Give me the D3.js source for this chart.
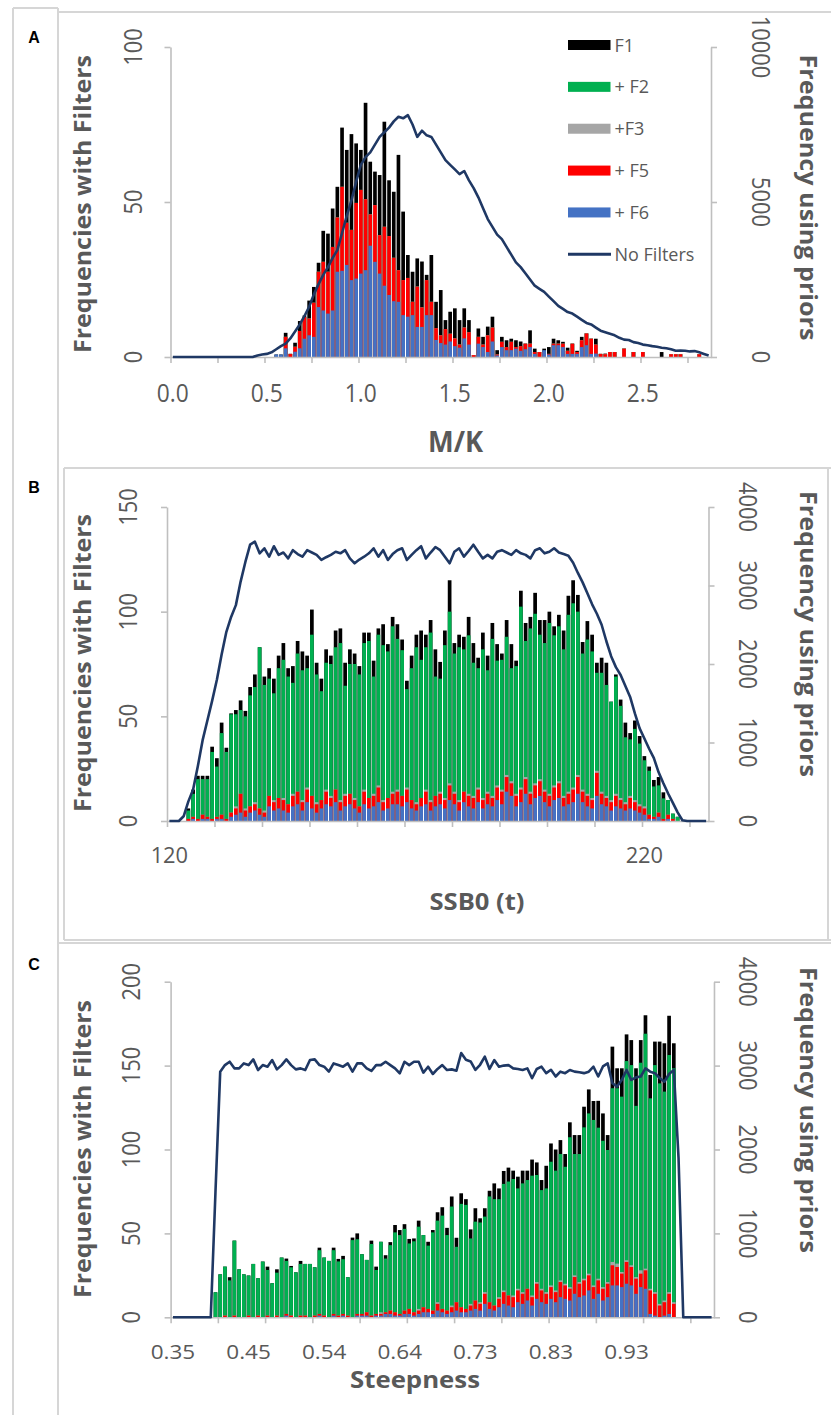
<!DOCTYPE html>
<html><head><meta charset="utf-8">
<script src="https://cdn.jsdelivr.net/npm/d3@7"></script>
<style>body{margin:0;background:#fff}svg{display:block}</style>
</head><body>
<svg id="chart" width="831" height="1415"></svg>
<script>
// ---------------- DATA ----------------
// Panel A : M/K, bins of 0.025 from 0.0 (115 bins); bars start at bin 22
const A_binStart = 0, A_binWidth = 0.025, A_nBins = 115, A_barStart = 22;
const A_xTickLabels = ["0.0","0.5","1.0","1.5","2.0","2.5"];
const A_xLabelBins = [0,20,40,60,80,100];
const A_leftTicks = [0,50,100];
const A_rightTicks = [0,5000,10000];
const A_f1 = [0.8,0.8,7.8,1,4.6,11.6,13.4,18.2,22.6,30.4,
  40.7,39.8,47.9,54.9,74,66.8,71.9,68.9,66.8,82,
  63,59.8,58.7,75.9,57,53.3,65.2,46.9,32.9,27.5,
  31.8,30.8,26.5,32.9,17.8,21.6,11.9,14.6,15.7,11.9,
  15.7,11.9,0.6,9.2,6.5,9.8,13,2.2,6.5,5.4,
  5.9,5.4,5,4.3,8.6,2.7,1.6,2.7,3.2,5.9,
  5.4,4.9,3,4.3,2,6.5,7.6,5.9,5.9,1,
  1.1,1.6,1.6,0,2.7,0,1.6,0,1.6,0,
  0,0,1.6,0,0.9,0.9,0.9,0,0,0,
  0.9,0,0];
const A_f5 = [0,0,6.5,1,3.3,8.4,12.9,12.4,17.5,27.5,
  30.7,27.5,35.5,45,54.9,43.3,41,49.7,53.9,50.9,
  46,49,39.3,42,39,32,28,24.8,25.5,17.8,
  22.7,16,24.8,17.8,9.3,7,9,7.5,6,4,
  9.5,8,0.6,6.5,4,7,9.5,0.8,4.9,3.2,
  4.9,3.2,3.5,4.3,4.3,1.6,1.6,1.6,1,4.3,
  4.3,4.3,2,4.3,1.6,5.4,7.6,5.9,4,1,
  0.9,1.6,1.6,0,2.7,0,1.6,0,1.6,0,
  0,0,0,0,0.9,0.9,0.9,0,0,0,
  0.9,0,0];
// in panel A no green / grey increment is visible: +F2 and +F3 tops equal the +F5 tops
const A_f2 = A_f5.slice();
const A_f3 = A_f5.slice();
const A_f6 = [0.8,0.8,2.8,0,1.7,2.8,5.9,7,6.5,16.1,
  15,14,15,27.5,27.8,29.7,24.8,25.3,26.9,28,
  35.9,30.7,26.9,23,20,18,17.8,13.5,13,13.5,
  9.7,9.7,13.5,13.5,5.5,4.5,4,5,3.5,3,
  6,4,0,4.3,3.2,1.6,5,0.5,3.2,2.2,
  2.2,2.7,2,2.5,3.2,1,0,2.2,0.8,3.8,
  3.8,3.2,1,1,1,3.2,3.8,1,1.1,0,
  0,0,0,0,0,0,0,0,0,0,
  0,0,0,0,0,0,0,0,0,0,
  0,0,0];
const A_noFilters = [0,0,0,0,0,0,0,0,0,0,
  0,0,0,0,0,0,0,0,50,80,
  100,150,250,350,430,600,820,1050,1320,1620,
  2020,2350,2650,2900,3200,3450,4000,4550,5050,5650,
  6200,6450,6600,6850,7100,7250,7400,7600,7750,7700,
  7800,7500,7100,7300,7150,7100,6850,6600,6350,6200,
  6050,5900,6000,5700,5450,5150,4800,4450,4200,3950,
  3800,3550,3300,3050,2900,2700,2500,2300,2200,2100,
  1950,1800,1650,1550,1450,1400,1300,1200,1100,1050,
  950,850,800,750,700,620,560,550,480,450,
  400,380,350,330,300,280,250,200,210,200,
  180,190,150,100,50];

// Panel B : SSB0 (t), bins of 1 t from 120 (114 bins); bars start at bin 4
const B_binStart = 120, B_binWidth = 1, B_nBins = 114, B_barStart = 4;
const B_xTickLabels = ["120","220"];
const B_xLabelBins = [0,100];
const B_leftTicks = [0,50,100,150];
const B_rightTicks = [0,1000,2000,3000,4000];
const B_f1 = [6,15,21.6,21.6,21.6,35.5,30,47,35,51.4,
  53,57.6,52.6,64,70,83,69,73,68,79,
  85,73,74,86,81,79,101,75.6,68,82,
  79,91,92,75.6,82,80,74,90,90,76.6,
  92,94,84.5,97.5,94,86.7,67,79,89,91,
  89,96,82,76,91,115,85,89,88,97.5,
  85,78,90,79,94.6,84.5,80,96,84.5,76.6,
  110,94.6,97.5,109,96,96,100,93,98.5,91,
  107.6,115,108,85.5,95.5,89,75.6,78,75.6,57,
  70,58,47,42,48,40.6,31,26,19.6,21,
  13.7,10,3.5,2];
const B_f2 = [5,13,20,20,20,33,26,42,33,51,
  51,53,50,60,64,83,65,68,61,73,
  77,69,66,80,72,73,89,70,62,75.6,
  75,83,85,64.6,75,75,70,85,86,69,
  89,84,81,93,87,81.6,63,73,83,77,
  83,90,69,68,84,100,80,83,82,88.7,
  75.6,73,82,72,87,76.6,77,88,73,74,
  102.4,86,92,99,89,85,94.6,88.7,93,82,
  98.5,104,100,80,86.7,81,70.8,70.8,65,57,
  69,55,40,39,44,37,29,24,16.5,17,
  10.8,10,3.5,2];
const B_f3 = [1,2,1,3,2,1,2,3,1,4,
  7,13,6,7,9,6,5,12,10,11,
  11,8,13,14,10,16,12,9,10,15,
  12,15,10,13,13,11,7,15,11,13,
  17,10,11,14,15,12,16,10,9,11,
  15,10,12,14,11,18,14,10,14,13,
  12,16,11,14,12,17,15,22,19,13,
  16,21,14,18,20,15,13,17,19,12,
  14,16,22,15,13,11,24,14,12,10,
  13,11,9,12,10,8,7,3,2,4,
  1,3,1,0];
const B_f5 = [1,2,1,3,2,1,2,3,1,4,
  6,13,5,7,8,6,4,12,9,11,
  10,8,12,14,9,15,12,8,10,14,
  11,15,9,12,13,10,7,14,11,12,
  16,9,11,13,14,12,15,10,8,11,
  14,9,12,13,10,17,13,9,14,12,
  11,15,10,13,11,16,14,21,18,12,
  15,20,13,17,19,14,12,16,18,11,
  13,15,21,14,12,10,23,13,11,9,
  12,10,8,11,9,7,6,3,2,4,
  1,3,1,0];
const B_f6 = [0,1,0,1,1,0,1,1,0,2,
  3,4,2,4,5,3,2,7,5,6,
  5,4,7,8,5,9,6,4,6,8,
  7,9,5,7,8,6,4,8,6,7,
  9,5,6,8,8,7,9,6,5,7,
  8,5,7,8,6,10,8,5,9,7,
  6,9,6,8,7,10,8,14,12,7,
  9,13,8,11,12,9,7,10,11,7,
  8,9,13,9,7,6,12,8,7,5,
  7,6,5,6,5,4,3,1,1,2,
  0,1,0,0];
const B_noFilters = [0,0,0,60,250,400,700,1030,1280,1530,
  1800,2120,2410,2600,2750,3050,3300,3520,3558,3410,
  3474,3367,3500,3390,3420,3345,3450,3400,3367,3450,
  3420,3390,3325,3360,3390,3430,3410,3450,3345,3283,
  3330,3367,3410,3474,3367,3450,3325,3400,3450,3474,
  3325,3390,3450,3500,3345,3420,3490,3450,3367,3283,
  3430,3474,3367,3440,3520,3430,3345,3390,3345,3430,
  3450,3420,3390,3450,3410,3390,3345,3450,3474,3410,
  3430,3474,3420,3400,3380,3290,3160,3040,2900,2760,
  2640,2500,2290,2100,1960,1860,1720,1580,1370,1180,
  1050,920,800,620,480,350,230,110,10,0,
  0,0,0,0];

// Panel C : Steepness, bins of 0.006 from 0.35 (115 bins); bars start at bin 9
const C_binStart = 0.35, C_binWidth = 0.006, C_nBins = 115, C_barStart = 9;
const C_xTickLabels = ["0.35","0.45","0.54","0.64","0.73","0.83","0.93"];
const C_xLabelBins = [0,16,32,48,64,80,96];
const C_leftTicks = [0,50,100,150,200];
const C_rightTicks = [0,1000,2000,3000,4000];
const C_f1 = [14.9,25.6,30.2,23.9,45.7,28.6,25.6,24.9,31.8,23.3,
  33.2,30.2,20.3,28.6,35.6,35,30.6,26.8,33.6,31.8,
  31.8,29.8,41.5,35.6,33.6,41.5,34.8,36.6,23.9,47.5,
  50,37.6,34.2,45.7,30.2,45,37,44.8,55,52,
  55.5,46.7,47,57.6,49,45,52,62.6,65.6,53.3,
  72,47.4,73.9,70.4,52.4,65,59,65,75.4,79.8,
  76.8,87.2,89.2,87.4,83.8,87.4,87.4,94,92.3,81.8,
  90.3,103.6,100,105.6,97.3,116.2,108.6,108.6,125.5,135.8,
  128.9,129,121.5,108.6,161.3,148.4,148.4,168.6,165.2,148.4,
  165.2,180,144.4,164.3,164.3,163.3,179.7,163.3];
const C_f2 = [14.9,25.6,30.2,22,45.7,28.6,25.6,24.9,31.8,23.3,
  33.2,28.2,20.3,26.6,35.6,33.6,29.8,26.8,31.8,31.8,
  31.8,29.8,40,35.6,33.6,40,33.3,34.6,23.9,46,
  46.5,37.6,34.2,43.7,28.2,45,35,43,50.6,49,
  52.7,44,45.3,54,49,42.7,50.6,57.6,60.6,49,
  66,42,67.6,67,47,57,56.5,60,72,70.4,
  70.4,79.5,80.9,82.4,76.8,79.8,81.8,84.4,84.8,75.8,
  76.8,92.7,87.4,97.3,89.7,107.3,97.3,97.3,113.2,121.5,
  117.6,113,105.2,99.7,136.5,136.5,131.5,152.7,150.3,126,
  151.7,169,130.5,150.3,139.4,134.5,156.3,148.4];
const C_f3 = [0,0,1,0,1,0,0,1,0,1,
  0,1,0,1,0,2,1,0,1,1,
  0,1,2,1,0,2,1,2,1,0,
  2,2,3,1,2,3,3,4,3,2,
  4,5,3,5,6,5,4,9,5,4,
  7,9,6,5,8,10,9,15,9,7,
  12,16,13,13,17,15,17,13,21,17,
  15,19,16,22,20,18,25,21,23,26,
  19,23,18,21,33,32,27,34,31,24,
  28,29,17,15,8,10,15,9];
const C_f5 = [0,0,1,0,1,0,0,1,0,1,
  0,1,0,1,0,2,1,0,1,1,
  0,1,2,1,0,2,1,2,1,0,
  2,2,3,1,2,2,3,4,3,2,
  4,5,3,4,6,5,4,8,5,4,
  6,9,6,5,7,10,8,14,9,7,
  11,15,13,12,16,14,17,12,20,16,
  14,18,15,21,19,17,24,20,22,25,
  18,22,17,20,31,30,26,33,30,23,
  26,28,16,14,7,9,14,8];
const C_f6 = [0,0,0,0,0,0,0,0,0,0,
  0,0,0,0,0,1,0,0,0,0,
  0,0,1,0,0,1,0,1,0,0,
  1,1,1,0,1,1,2,2,1,1,
  2,2,1,2,3,3,2,4,3,2,
  3,4,3,3,4,5,4,8,5,4,
  6,8,7,6,9,8,10,7,11,9,
  8,11,9,12,11,10,14,12,13,16,
  11,14,10,12,19,19,18,20,19,14,
  18,17,2,1,0,1,2,0];
const C_noFilters = [0,0,0,0,0,0,0,0,0,1500,
  2928,3006,3046,2967,2967,3026,3006,3074,2947,3006,
  2987,3066,2955,3006,3074,3006,2955,2967,2947,3066,
  3074,3006,2987,2928,3026,3006,2987,3026,2928,3026,
  3026,2967,2936,3006,3006,3046,3006,2967,2908,3046,
  3006,3046,3046,2916,2987,2900,2960,3006,2947,2955,
  2940,3150,3070,3050,2948,3010,3106,2960,3066,2987,
  3000,3006,2967,2960,2948,2967,2849,2960,2987,2910,
  2950,2870,2928,2910,2948,2928,2920,2910,2928,2987,
  2870,2990,3027,2789,2750,2830,2948,2830,2860,2870,
  2968,2928,2910,2852,2808,2900,2948,1900,0,0,
  0,0,0,0,0];

const legendLabels = ["F1","+ F2","+F3","+ F5","+ F6","No Filters"];
const leftTitle = "Frequencies with Filters";
const rightTitle = "Frequency using priors";

// ---------------- DRAWING ----------------
const COL = {f1:"#000000", f2:"#00b050", f3:"#a6a6a6", f5:"#ff0000", f6:"#4472c4", line:"#1f3864"};
const TXT = "#595959", AXC = "#bfbfbf", FRAME = "#d6d6d6";
const FONT = "'Open Sans', 'Noto Sans', sans-serif";

const svg = d3.select("#chart");
svg.append("rect").attr("width",831).attr("height",1415).attr("fill","#fff");

// frames
const frames = [
  [13,8,13,1415],[58,8,58,1415],[13,8,58,8],
  [58,12,831,12],
  [64,468,831,468],[64,468,64,940],[64,940,831,940],[828,468,828,940],
  [58,943,831,943]
];
svg.append("g").selectAll("line").data(frames).join("line")
  .attr("x1",d=>d[0]).attr("y1",d=>d[1]).attr("x2",d=>d[2]).attr("y2",d=>d[3])
  .attr("stroke",FRAME).attr("stroke-width",2);

function tw(s){ let w=0; for(const ch of s) w += (ch==='.') ? 7 : 12.5; return w; }

function drawPanel(p){
  const g = svg.append("g");
  const xEnd = p.x0 + p.n*p.pitch;
  const pad = 0.22;
  const x = d3.scaleBand().domain(d3.range(p.n)).range([p.x0, xEnd]).paddingInner(pad).paddingOuter(pad/2);
  const xl = d3.scaleLinear().domain([0,p.n]).range([p.x0, xEnd]);
  const yL = d3.scaleLinear().domain([0,p.leftMax]).range([p.yB, p.yT]);
  const yR = d3.scaleLinear().domain([0,p.rightMax]).range([p.yB, p.yT]);

  // overlapping filter bars (F1 largest at back)
  [["f1",p.f1],["f2",p.f2],["f3",p.f3],["f5",p.f5],["f6",p.f6]].forEach(([key,arr])=>{
    g.append("g").selectAll("rect")
      .data(arr.map((v,i)=>({k:i+p.barStart, v})).filter(d=>d.v>0))
      .join("rect")
      .attr("x", d=>x(d.k)).attr("width", x.bandwidth())
      .attr("y", d=>yL(d.v)).attr("height", d=>yL(0)-yL(d.v))
      .attr("fill", COL[key]);
  });

  // axes (lines + tick marks)
  const styleAxis = sel => {
    sel.select(".domain").attr("stroke",AXC).attr("stroke-width",1.6);
    sel.selectAll(".tick line").attr("stroke",AXC).attr("stroke-width",1.6);
    sel.selectAll(".tick text").remove();
  };
  const axL = g.append("g").attr("transform",`translate(${p.x0},0)`)
    .call(d3.axisLeft(yL).tickValues(p.leftTicks).tickSize(6).tickSizeOuter(0));
  styleAxis(axL);
  const axR = g.append("g").attr("transform",`translate(${xEnd},0)`)
    .call(d3.axisRight(yR).tickValues(p.rightTicks).tickSize(6).tickSizeOuter(0));
  styleAxis(axR);
  const axB = g.append("g").attr("transform",`translate(0,${p.yB})`)
    .call(d3.axisBottom(xl).tickValues(d3.range(0,p.n,10)).tickSize(6).tickSizeOuter(0));
  styleAxis(axB);

  // rotated y tick labels
  g.append("g").selectAll("text").data(p.leftTicks).join("text")
    .attr("transform", d=>`translate(${p.x0-p.offL},${yL(d)}) rotate(-90)`)
    .attr("text-anchor","middle").attr("fill",TXT)
    .attr("font-family",FONT).attr("font-size",25)
    .attr("textLength",d=>tw(String(d))).attr("lengthAdjust","spacingAndGlyphs")
    .text(d=>String(d));
  g.append("g").selectAll("text").data(p.rightTicks).join("text")
    .attr("transform", d=>`translate(${xEnd+p.offR},${yR(d)}) rotate(90)`)
    .attr("text-anchor","middle").attr("fill",TXT)
    .attr("font-family",FONT).attr("font-size",25)
    .attr("textLength",d=>tw(String(d))).attr("lengthAdjust","spacingAndGlyphs")
    .text(d=>String(d));

  // x tick labels at category centres
  g.append("g").selectAll("text").data(p.labelBins).join("text")
    .attr("x", d=>x(d)+x.bandwidth()/2).attr("y", p.xLblBase)
    .attr("text-anchor","middle")
    .attr("fill",TXT).attr("font-family",FONT).attr("font-size",p.xLblSize)
    .attr("textLength",(d,i)=>tw(p.xLabels[i])).attr("lengthAdjust","spacingAndGlyphs")
    .text((d,i)=>p.xLabels[i]);

  // No-filter line (right axis)
  const line = d3.line().x((v,i)=>x(i)+x.bandwidth()/2).y(v=>yR(v));
  g.append("path").datum(p.line).attr("d",line)
    .attr("fill","none").attr("stroke",COL.line).attr("stroke-width",2.6)
    .attr("stroke-linejoin","round");

  // titles
  g.append("text").attr("transform",`translate(${p.tLx},${p.tLy}) rotate(-90)`)
    .attr("text-anchor","middle").attr("font-family",FONT).attr("font-weight",700)
    .attr("font-size",23).attr("fill",TXT)
    .attr("textLength",298).attr("lengthAdjust","spacingAndGlyphs").text(leftTitle);
  g.append("text").attr("transform",`translate(${p.tRx},${p.tRy}) rotate(90)`)
    .attr("text-anchor","middle").attr("font-family",FONT).attr("font-weight",700)
    .attr("font-size",23).attr("fill",TXT)
    .attr("textLength",286).attr("lengthAdjust","spacingAndGlyphs").text(rightTitle);
  g.append("text").attr("x",p.xtX).attr("y",p.xtY)
    .attr("text-anchor","middle").attr("font-family",FONT).attr("font-weight",700)
    .attr("font-size",p.xtSize).attr("fill",TXT)
    .attr("textLength",p.xtLen).attr("lengthAdjust","spacingAndGlyphs").text(p.xTitle);
  g.append("text").attr("x",34).attr("y",p.labY).attr("text-anchor","middle")
    .attr("font-family","'Liberation Sans', Arial, sans-serif").attr("font-weight",700)
    .attr("font-size",16).attr("fill","#000").text(p.panel);
}

drawPanel({panel:"A", labY:43, x0:170.5, pitch:4.7, n:A_nBins, yB:357, yT:47,
  leftMax:100, leftTicks:A_leftTicks, rightMax:10000, rightTicks:A_rightTicks, offL:28.5, offR:40.5,
  barStart:A_barStart, f1:A_f1, f2:A_f2, f3:A_f3, f5:A_f5, f6:A_f6, line:A_noFilters,
  labelBins:A_xLabelBins, xLabels:A_xTickLabels, xLblBase:402, xLblSize:25,
  xTitle:"M/K", xtX:455.5, xtY:452, xtSize:28, xtLen:55,
  tLx:90.5, tLy:204, tRx:799.5, tRy:197.5});

drawPanel({panel:"B", labY:493, x0:167, pitch:4.75, n:B_nBins, yB:821, yT:507,
  leftMax:150, leftTicks:B_leftTicks, rightMax:4000, rightTicks:B_rightTicks, offL:30, offR:30.5,
  barStart:B_barStart, f1:B_f1, f2:B_f2, f3:B_f3, f5:B_f5, f6:B_f6, line:B_noFilters,
  labelBins:B_xLabelBins, xLabels:B_xTickLabels, xLblBase:863, xLblSize:21,
  xTitle:"SSB0 (t)", xtX:477, xtY:910, xtSize:24, xtLen:95,
  tLx:91, tLy:663, tRx:799.5, tRy:634});

drawPanel({panel:"C", labY:970, x0:170.6, pitch:4.725, n:C_nBins, yB:1317.3, yT:981.7,
  leftMax:200, leftTicks:C_leftTicks, rightMax:4000, rightTicks:C_rightTicks, offL:30.6, offR:25,
  barStart:C_barStart, f1:C_f1, f2:C_f2, f3:C_f3, f5:C_f5, f6:C_f6, line:C_noFilters,
  labelBins:C_xLabelBins, xLabels:C_xTickLabels, xLblBase:1359, xLblSize:20,
  xTitle:"Steepness", xtX:415, xtY:1388, xtSize:23, xtLen:130,
  tLx:90.5, tLy:1149, tRx:799.5, tRy:1110});

// legend (panel A)
const legKeys = ["f1","f2","f3","f5","f6","line"];
const legY = d3.scaleLinear().domain([0,5]).range([45,254.3]);
const leg = svg.append("g");
legKeys.forEach((k,i)=>{
  const yy = legY(i);
  if(k==="line"){
    leg.append("line").attr("x1",568).attr("x2",611).attr("y1",yy).attr("y2",yy)
      .attr("stroke",COL.line).attr("stroke-width",3);
  } else {
    leg.append("rect").attr("x",568).attr("y",yy-5).attr("width",42.5).attr("height",10).attr("fill",COL[k]);
  }
  leg.append("text").attr("x",614.5).attr("y",yy+6.5).attr("font-family",FONT)
    .attr("font-size",18).attr("fill",TXT).text(legendLabels[i]);
});
</script>
</body></html>
